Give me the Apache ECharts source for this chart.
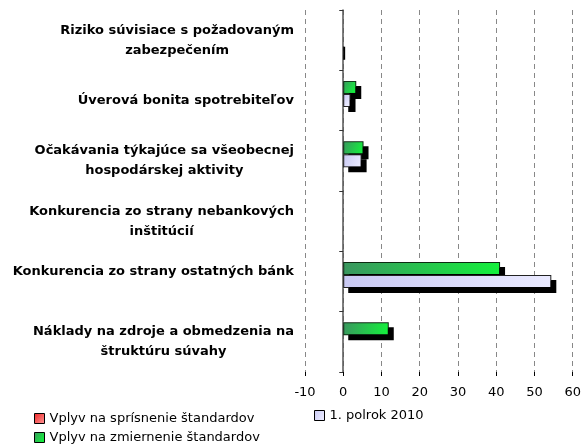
<!DOCTYPE html>
<html>
<head>
<meta charset="utf-8">
<script src="https://cdn.jsdelivr.net/npm/echarts@6/dist/echarts.min.js"></script>
<style>
html,body{margin:0;padding:0;background:#fff;}
#c{width:584px;height:445px;}
</style>
</head>
<body>
<div id="c"></div>
<script>
const categories = [
  'Riziko súvisiace s požadovaným\nzabezpečením',
  'Úverová bonita spotrebiteľov',
  'Očakávania týkajúce sa všeobecnej\nhospodárskej aktivity',
  'Konkurencia zo strany nebankových\ninštitúcií',
  'Konkurencia zo strany ostatných bánk\n',
  'Náklady na zdroje a obmedzenia na\nštruktúru súvahy'
];
const seriesNames = ['Vplyv na sprísnenie štandardov', 'Vplyv na zmiernenie štandardov', '1. polrok 2010'];
const tighteningValues = [0.5, null, null, null, null, null];
const easingValues = [null, 3.4, 5.3, null, 41.0, 11.9];
const h1Values = [null, 1.9, 4.8, null, 54.4, null];
const xTicks = { min: -10, max: 60, interval: 10 };

const chart = echarts.init(document.getElementById('c'), null, { renderer: 'canvas' });
const G = echarts.graphic.LinearGradient;
const shadow = { shadowColor: '#000', shadowBlur: 0, shadowOffsetX: 5, shadowOffsetY: 5 };
const greenFill = new G(0, 0, 1, 0.6, [{ offset: 0, color: '#3a965f' }, { offset: 1, color: '#14f03c' }]);
const lavFill = new G(0, 0, 1, 0.6, [{ offset: 0, color: '#c9c9f3' }, { offset: 1, color: '#eaeaff' }]);
const redFill = new G(0, 0, 1, 1, [{ offset: 0, color: '#ee2222' }, { offset: 1, color: '#ff9a9a' }]);

function fmtLabel(v) {
  return v.split('\n').map(s => '{c|' + (s.length ? s : ' ') + '}').join('\n');
}
const legendItemStyle = { borderColor: '#000', borderWidth: 1, shadowBlur: 0, shadowOffsetX: 0, shadowOffsetY: 0, shadowColor: 'transparent' };

chart.setOption({
  animation: false,
  backgroundColor: '#fff',
  textStyle: { fontFamily: 'DejaVu Sans' },
  grid: { left: 305, right: 9, top: 10, bottom: 73, containLabel: false },
  legend: [
    {
      data: [seriesNames[0], seriesNames[1]],
      orient: 'vertical', left: 34, bottom: 1, padding: 0, itemWidth: 10, itemHeight: 10, itemGap: 6,
      icon: 'rect', itemStyle: legendItemStyle,
      textStyle: { fontSize: 13, color: '#000', fontFamily: 'DejaVu Sans' }
    },
    {
      data: [seriesNames[2]],
      orient: 'vertical', left: 314, top: 409, padding: 0, itemWidth: 10, itemHeight: 10,
      icon: 'rect', itemStyle: legendItemStyle,
      textStyle: { fontSize: 13, color: '#000', fontFamily: 'DejaVu Sans' }
    }
  ],
  xAxis: {
    type: 'value', min: xTicks.min, max: xTicks.max, interval: xTicks.interval,
    axisLine: { onZero: false, lineStyle: { color: '#000', width: 1 } },
    axisTick: { show: true, length: 4, lineStyle: { color: '#000' } },
    axisLabel: { color: '#000', fontSize: 13, margin: 14, fontFamily: 'DejaVu Sans' },
    splitLine: { show: true, lineStyle: { color: '#888', type: [5, 4], width: 1 } }
  },
  yAxis: [
    {
      type: 'category', data: categories, inverse: true, position: 'left',
      axisLine: { show: false, onZero: false },
      axisTick: { show: false },
      axisLabel: {
        margin: 11, align: 'right', formatter: fmtLabel,
        rich: { c: { fontFamily: 'DejaVu Sans', fontWeight: 'bold', fontSize: 13, color: '#000', lineHeight: 20, align: 'center' } }
      },
      splitLine: { show: false }
    },
    {
      type: 'category', data: categories, inverse: true, position: 'left',
      axisLine: { show: true, onZero: true, lineStyle: { color: '#555', width: 1.5 } },
      axisTick: { show: true, length: 4, lineStyle: { color: '#333' } },
      axisLabel: { show: false },
      splitLine: { show: false }
    }
  ],
  series: [
    {
      name: seriesNames[1], type: 'bar', yAxisIndex: 0, data: easingValues,
      barCategoryGap: '35%', barGap: '0%',
      itemStyle: Object.assign({ color: greenFill, borderColor: '#0d2a12', borderWidth: 2 }, shadow)
    },
    {
      name: seriesNames[2], type: 'bar', yAxisIndex: 0, data: h1Values,
      barCategoryGap: '35%', barGap: '0%',
      itemStyle: Object.assign({ color: lavFill, borderColor: '#222', borderWidth: 2 }, shadow)
    },
    {
      name: seriesNames[0], type: 'bar', yAxisIndex: 0, data: tighteningValues,
      barCategoryGap: '35%', barGap: '0%',
      itemStyle: { color: redFill, borderColor: '#000', borderWidth: 1.5 }
    }
  ]
});

// draw each bar's border before its fill so the drop shadow comes from the bar shape only
chart.getZr().storage.getDisplayList(true).forEach(function (el) {
  if (el.type === 'rect' && el.style && el.style.shadowOffsetX === 5) {
    el.style.strokeFirst = true;
    el.markRedraw && el.markRedraw();
  }
});
chart.getZr().refreshImmediately && chart.getZr().refreshImmediately();
</script>
</body>
</html>
